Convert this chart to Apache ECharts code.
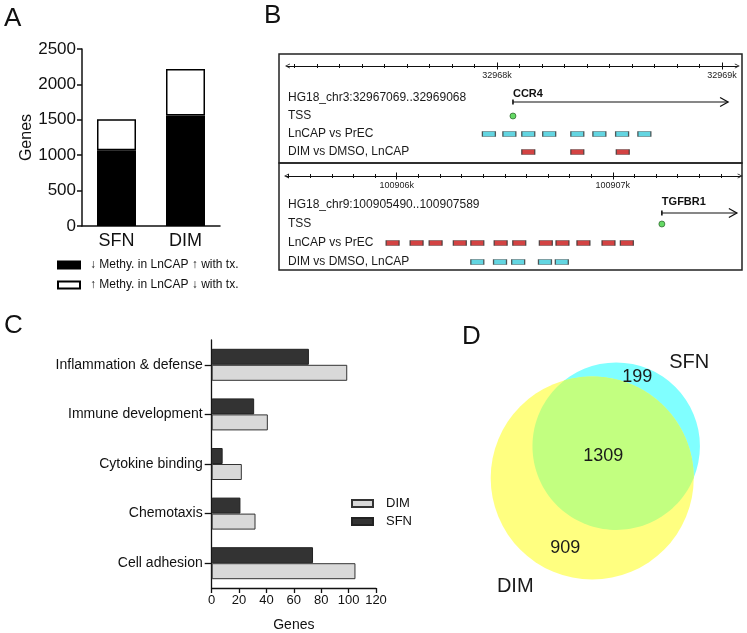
<!DOCTYPE html>
<html><head><meta charset="utf-8">
<script src="https://cdn.jsdelivr.net/npm/echarts@6/dist/echarts.min.js"></script>
<style>html,body{margin:0;padding:0;background:#fff}#c{width:747px;height:633px}</style>
</head><body><div id="c"></div>
<script>
const FONT = "'Liberation Sans', Arial, sans-serif";

// ---- Panel A data ----
const aCategories = ['SFN', 'DIM'];
const aDownMethUp = [1070, 1560];   // black: ↓ methylation in LnCAP, ↑ with tx
const aUpMethDown = [438, 658];     // white: ↑ methylation in LnCAP, ↓ with tx
const aSeriesNames = ['\u2193 Methy. in LnCAP \u2191 with tx.', '\u2191 Methy. in LnCAP \u2193 with tx.'];

// ---- Panel B data ----
const ccr4Region = [32967069, 32969068];
const ccr4Rows = ['HG18_chr3:32967069..32969068', 'TSS', 'LnCAP vs PrEC', 'DIM vs DMSO, LnCAP'];
const ccr4MajorTicks = [32968000, 32969000];
const ccr4Gene = ['CCR4', 32968071, 32969027];        // name, TSS, arrow end
const ccr4LnCapPrEC = [32967964, 32968055, 32968139, 32968232, 32968357, 32968455, 32968556, 32968655];
const ccr4DimDmso = [32968139, 32968357, 32968559];

const tgfRegion = [100905490, 100907589];
const tgfRows = ['HG18_chr9:100905490..100907589', 'TSS', 'LnCAP vs PrEC', 'DIM vs DMSO, LnCAP'];
const tgfMajorTicks = [100906000, 100907000];
const tgfGene = ['TGFBR1', 100907227, 100907574];
const tgfLnCapPrEC = [100905981, 100906092, 100906180, 100906292, 100906373, 100906481, 100906567, 100906690, 100906767, 100906864, 100906980, 100907065];
const tgfDimDmso = [100906373, 100906478, 100906562, 100906686, 100906764];

// ---- Panel C data ----
const cCategories = ['Inflammation & defense', 'Immune development', 'Cytokine binding', 'Chemotaxis', 'Cell adhesion'];
const cDIM = [99, 41, 22, 32, 105];
const cSFN = [71, 31, 8, 21, 74];

// ---- Panel D data ----
const vennSets = ['SFN', 'DIM'];
const vennCounts = [199, 1309, 909];   // SFN only, both, DIM only

const CYAN = '#3ccbd9', RED = '#c81414';
const CHEV = 'path://M0,10L5,0L10,10L8.4,10L5,3.2L1.6,10Z';

function stepTicks(lo, hi, step) {
  const out = [];
  for (let v = Math.ceil(lo / step) * step; v <= hi; v += step) out.push(v);
  return out;
}

function tickAxis(gridIndex, region, offset, values, inside, length) {
  return { type: 'value', gridIndex, min: region[0], max: region[1], position: 'top', offset,
    axisLine: { show: false, onZero: false },
    axisTick: { show: true, customValues: values, length, inside, lineStyle: { color: '#111' } },
    axisLabel: { show: false }, splitLine: { show: false } };
}

function trackXAxes(gridIndex, region, majors, offset) {
  const minors = stepTicks(region[0], region[1], 100);
  return [
    { type: 'value', gridIndex, min: region[0], max: region[1], position: 'top', offset,
      axisLine: { show: true, onZero: false, symbol: [CHEV, CHEV], symbolSize: [7, 5], lineStyle: { color: '#111', width: 1 } },
      axisTick: { show: true, customValues: minors, length: 2, inside: false, lineStyle: { color: '#111' } },
      axisLabel: { show: true, customValues: majors, inside: true, margin: 5, fontSize: 9, color: '#222', fontFamily: FONT,
        formatter: v => Math.round(v / 1000) + 'k' },
      splitLine: { show: false } },
    tickAxis(gridIndex, region, offset, minors, true, 2),
    tickAxis(gridIndex, region, offset, majors, true, 3.5),
    tickAxis(gridIndex, region, offset, majors, false, 3.5)
  ];
}

function trackYAxis(gridIndex, rows, margin) {
  return { type: 'category', gridIndex, data: rows, inverse: true,
    axisLine: { show: false, onZero: false }, axisTick: { show: false },
    axisLabel: { inside: true, margin, fontSize: 12, color: '#1a1a1a', fontFamily: FONT },
    splitLine: { show: false } };
}

function geneSeries(xi, yi, gene, arrowDy, labelDy) {
  return { type: 'custom', xAxisIndex: xi, yAxisIndex: yi, encode: { x: [0, 1], y: 2 },
    data: [[gene[1], gene[2], 0]],
    renderItem: (params, api) => {
      const p0 = api.coord([api.value(0), api.value(2)]);
      const p1 = api.coord([api.value(1), api.value(2)]);
      const y = p0[1] + arrowDy;
      return { type: 'group', children: [
        { type: 'line', shape: { x1: p0[0], y1: y, x2: p1[0], y2: y }, style: { stroke: '#111', lineWidth: 1.2 } },
        { type: 'line', shape: { x1: p0[0], y1: y - 2.5, x2: p0[0], y2: y + 2.5 }, style: { stroke: '#111', lineWidth: 1.6 } },
        { type: 'polyline', shape: { points: [[p1[0] - 8, y - 4.5], [p1[0], y], [p1[0] - 8, y + 4.5]] }, style: { stroke: '#111', fill: null, lineWidth: 1.3 } },
        { type: 'text', x: p0[0], y: y - labelDy, style: { text: gene[0], font: 'bold 11px ' + FONT, fill: '#111', align: 'left', verticalAlign: 'bottom' } }
      ] };
    } };
}

function tssSeries(xi, yi, gene) {
  return { type: 'scatter', xAxisIndex: xi, yAxisIndex: yi, data: [[gene[1], 1]], symbol: 'circle', symbolSize: 6,
    itemStyle: { color: '#3fcf3f', borderColor: '#1c501c', borderWidth: 0.8 } };
}

function probeSeries(xi, yi, positions, row, color) {
  return { type: 'scatter', xAxisIndex: xi, yAxisIndex: yi, data: positions.map(p => [p, row]), symbol: 'rect', symbolSize: [13, 5],
    itemStyle: { color, borderColor: '#333', borderWidth: 0.8 } };
}

// Venn geometry
function lensArea(r1, r2, d) {
  if (d >= r1 + r2) return 0;
  if (d <= Math.abs(r1 - r2)) return Math.PI * Math.min(r1, r2) ** 2;
  const a = r1 * r1 * Math.acos((d * d + r1 * r1 - r2 * r2) / (2 * d * r1));
  const b = r2 * r2 * Math.acos((d * d + r2 * r2 - r1 * r1) / (2 * d * r2));
  const c = 0.5 * Math.sqrt((-d + r1 + r2) * (d + r1 - r2) * (d - r1 + r2) * (d + r1 + r2));
  return a + b - c;
}
function solveDistance(r1, r2, area) {
  let lo = Math.abs(r1 - r2), hi = r1 + r2;
  for (let i = 0; i < 60; i++) { const m = (lo + hi) / 2; if (lensArea(r1, r2, m) > area) lo = m; else hi = m; }
  return (lo + hi) / 2;
}
const VENN_ANGLE = 53 * Math.PI / 180;

function vennRender(params, api) {
  const rS = Math.sqrt((vennCounts[0] + vennCounts[1]) / Math.PI);
  const rD = Math.sqrt((vennCounts[1] + vennCounts[2]) / Math.PI);
  const d = solveDistance(rS, rD, vennCounts[1]);
  const pD = api.coord([0, 0]);
  const pS = api.coord([d * Math.cos(VENN_ANGLE), d * Math.sin(VENN_ANGLE)]);
  const RS = api.size([rS, 0])[0], RD = api.size([rD, 0])[0];
  const dp = Math.hypot(pD[0] - pS[0], pD[1] - pS[1]);
  const phi = Math.atan2(pD[1] - pS[1], pD[0] - pS[0]);
  const a1 = Math.acos((dp * dp + RS * RS - RD * RD) / (2 * dp * RS));
  const a2 = Math.acos((dp * dp + RD * RD - RS * RS) / (2 * dp * RD));
  const pts = [];
  const N = 90;
  for (let i = 0; i <= N; i++) { const t = phi - a1 + 2 * a1 * i / N; pts.push([pS[0] + RS * Math.cos(t), pS[1] + RS * Math.sin(t)]); }
  for (let i = 0; i <= N; i++) { const t = phi + Math.PI - a2 + 2 * a2 * i / N; pts.push([pD[0] + RD * Math.cos(t), pD[1] + RD * Math.sin(t)]); }
  const txt = (s, x, y, size) => ({ type: 'text', x, y, style: { text: s, font: size + 'px ' + FONT, fill: '#1a1a1a', align: 'center', verticalAlign: 'middle' } });
  return { type: 'group', children: [
    { type: 'circle', shape: { cx: pS[0], cy: pS[1], r: RS }, style: { fill: '#80ffff' } },
    { type: 'circle', shape: { cx: pD[0], cy: pD[1], r: RD }, style: { fill: '#ffff80' } },
    { type: 'polygon', shape: { points: pts }, style: { fill: '#c2ff80' } },
    txt(String(vennCounts[0]), pS[0] + 21, pS[1] - 69, 18),
    txt(String(vennCounts[1]), pS[0] - 13, pS[1] + 10, 18),
    txt(String(vennCounts[2]), pD[0] - 27, pD[1] + 70, 18),
    txt(vennSets[0], pS[0] + 73, pS[1] - 84, 20),
    txt(vennSets[1], pD[0] - 77, pD[1] + 108, 20)
  ] };
}

const chart = echarts.init(document.getElementById('c'), null, { renderer: 'canvas' });
const option = {
  animation: false,
  backgroundColor: '#fff',
  textStyle: { fontFamily: FONT },
  grid: [
    { left: 82, top: 49, width: 138, height: 177 },
    { left: 287.5, top: 89, width: 449.8, height: 72 },
    { left: 286.5, top: 195.5, width: 453.6, height: 76 },
    { left: 211.7, top: 340, width: 164.3, height: 248 },
    { left: 400, top: 310, width: 347, height: 323 }
  ],
  xAxis: [
    { type: 'category', gridIndex: 0, data: aCategories,
      axisLine: { lineStyle: { color: '#111', width: 1.5 } }, axisTick: { show: false },
      axisLabel: { fontSize: 18, color: '#111', margin: 6, fontFamily: FONT } },
    ...trackXAxes(1, ccr4Region, ccr4MajorTicks, 23),
    ...trackXAxes(2, tgfRegion, tgfMajorTicks, 19.5),
    { type: 'value', gridIndex: 3, min: 0, max: 120, interval: 20,
      axisLine: { show: true, onZero: false, lineStyle: { color: '#111', width: 1.3 } },
      axisTick: { show: true, length: 5, lineStyle: { color: '#111', width: 1.3 } },
      axisLabel: { fontSize: 13, color: '#111', margin: 6, fontFamily: FONT },
      splitLine: { show: false },
      name: 'Genes', nameLocation: 'middle', nameGap: 30, nameTextStyle: { fontSize: 14, color: '#111', fontFamily: FONT } },
    { type: 'value', gridIndex: 4, min: -50.3, max: 40.5, show: false }
  ],
  yAxis: [
    { type: 'value', gridIndex: 0, min: 0, max: 2500, interval: 500,
      axisLine: { show: true, lineStyle: { color: '#111', width: 1.5 } },
      axisTick: { show: true, length: 5, lineStyle: { color: '#111', width: 1.5 } },
      axisLabel: { fontSize: 17, color: '#111', margin: 6, fontFamily: FONT, formatter: v => String(v) },
      splitLine: { show: false },
      name: 'Genes', nameLocation: 'middle', nameRotate: 90, nameGap: 46,
      nameTextStyle: { fontSize: 16, color: '#111', fontFamily: FONT } },
    trackYAxis(1, ccr4Rows, 0.5),
    trackYAxis(2, tgfRows, 1.5),
    { type: 'category', gridIndex: 3, data: cCategories, inverse: true,
      axisLine: { show: true, onZero: false, lineStyle: { color: '#111', width: 1.3 } },
      axisTick: { show: true, alignWithLabel: true, length: 7, lineStyle: { color: '#111', width: 1.3 } },
      axisLabel: { fontSize: 14, color: '#111', margin: 9, fontFamily: FONT } },
    { type: 'value', gridIndex: 4, min: -40.6, max: 44, show: false }
  ],
  legend: [
    { data: aSeriesNames, left: 52, top: 254, orient: 'vertical', icon: 'rect', itemWidth: 22, itemHeight: 7, itemGap: 8,
      selectedMode: false, textStyle: { fontSize: 12, color: '#111', fontFamily: FONT, padding: [0, 0, 0, 5] } },
    { data: ['DIM', 'SFN'], left: 346, top: 492, orient: 'vertical', icon: 'rect', itemWidth: 21, itemHeight: 7, itemGap: 5,
      selectedMode: false, textStyle: { fontSize: 13, color: '#111', fontFamily: FONT, padding: [0, 0, 0, 8] } }
  ],
  graphic: [
    { type: 'text', x: 4, y: 6, style: { text: 'A', font: '26px ' + FONT, fill: '#111' } },
    { type: 'text', x: 264, y: 3, style: { text: 'B', font: '26px ' + FONT, fill: '#111' } },
    { type: 'text', x: 4, y: 313, style: { text: 'C', font: '26px ' + FONT, fill: '#111' } },
    { type: 'text', x: 462, y: 324, style: { text: 'D', font: '26px ' + FONT, fill: '#111' } },
    { type: 'rect', shape: { x: 279, y: 54, width: 463, height: 109 }, style: { fill: null, stroke: '#222', lineWidth: 1.5 } },
    { type: 'rect', shape: { x: 279, y: 163, width: 463, height: 107 }, style: { fill: null, stroke: '#222', lineWidth: 1.5 } }
  ],
  series: [
    { name: aSeriesNames[0], type: 'bar', xAxisIndex: 0, yAxisIndex: 0, stack: 'a', barWidth: 39, data: aDownMethUp,
      itemStyle: { color: '#000', borderColor: '#000', borderWidth: 1.5 } },
    { name: aSeriesNames[1], type: 'bar', xAxisIndex: 0, yAxisIndex: 0, stack: 'a', barWidth: 39, data: aUpMethDown,
      itemStyle: { color: '#fff', borderColor: '#000', borderWidth: 1.5 } },

    geneSeries(1, 1, ccr4Gene, 4, 3),
    tssSeries(1, 1, ccr4Gene),
    probeSeries(1, 1, ccr4LnCapPrEC, 2, CYAN),
    probeSeries(1, 1, ccr4DimDmso, 3, RED),

    geneSeries(5, 2, tgfGene, 8, 6),
    tssSeries(5, 2, tgfGene),
    probeSeries(5, 2, tgfLnCapPrEC, 2, RED),
    probeSeries(5, 2, tgfDimDmso, 3, CYAN),

    { name: 'SFN', type: 'bar', xAxisIndex: 9, yAxisIndex: 3, barWidth: 16, barGap: '0%', data: cSFN,
      itemStyle: { color: '#333', borderColor: '#222', borderWidth: 1 } },
    { name: 'DIM', type: 'bar', xAxisIndex: 9, yAxisIndex: 3, barWidth: 16, barGap: '0%', data: cDIM,
      itemStyle: { color: '#d9d9d9', borderColor: '#333', borderWidth: 1 } },

    { type: 'custom', xAxisIndex: 10, yAxisIndex: 4, data: [[0, 0]], renderItem: vennRender, silent: true }
  ]
};
chart.setOption(option);
</script></body></html>
